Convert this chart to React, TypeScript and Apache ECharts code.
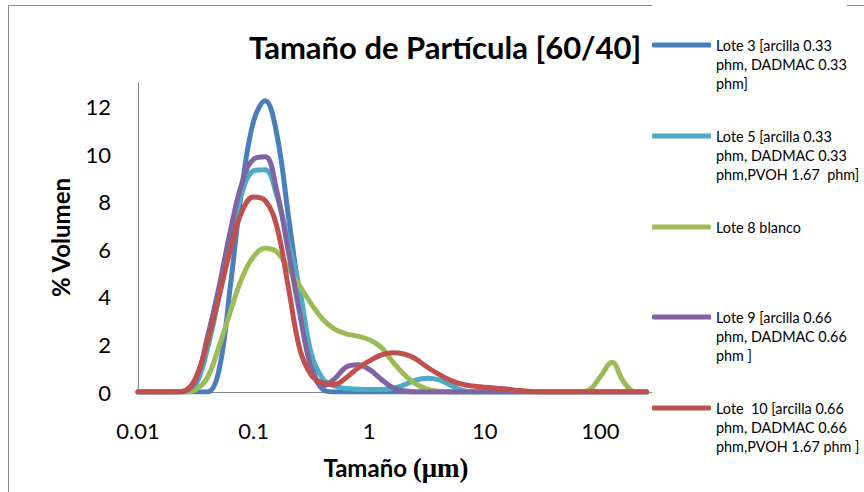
import React, { useEffect, useRef } from "react";
import * as echarts from "echarts";

const sizes = [
  0.01, 0.0126, 0.0158, 0.02, 0.0251, 0.0316, 0.0398, 0.0501, 0.0631, 0.0794,
  0.1, 0.126, 0.158, 0.2, 0.251, 0.316, 0.398, 0.501, 0.631, 0.794,
  1, 1.26, 1.58, 2, 2.51, 3.16, 3.98, 5.01, 6.31, 7.94,
  10, 12.6, 15.8, 20, 25.1, 31.6, 39.8, 50.1, 63.1, 79.4,
  100, 126, 158, 200, 251,
];

const lote3 = [
  0, 0, 0, 0, 0, 0, 0, 0.9, 4.5, 8.6,
  11.4, 12.25, 10.9, 7.4, 4.0, 1.2, 0.1, 0, 0, 0,
  0, 0, 0, 0, 0, 0, 0, 0, 0, 0,
  0, 0, 0, 0, 0, 0, 0, 0, 0, 0,
  0, 0, 0, 0, 0,
];
const lote5 = [
  0, 0, 0, 0, 0, 0.3, 1.8, 4.0, 6.4, 8.4,
  9.3, 9.35, 8.3, 6.3, 4.3, 1.6, 0.55, 0.25, 0.15, 0.12,
  0.1, 0.1, 0.15, 0.3, 0.5, 0.58, 0.52, 0.3, 0.08, 0.01,
  0, 0, 0, 0, 0, 0, 0, 0, 0, 0,
  0, 0, 0, 0, 0,
];
const lote8 = [
  0, 0, 0, 0, 0, 0.1, 0.6, 1.9, 3.4, 4.8,
  5.7, 6.05, 5.9, 5.2, 4.45, 3.7, 3.05, 2.65, 2.45, 2.35,
  2.2, 1.9, 1.3, 0.75, 0.35, 0.12, 0.03, 0, 0, 0,
  0, 0, 0, 0, 0, 0, 0, 0, 0, 0.08,
  0.65, 1.25, 0.45, 0, 0,
];
const lote9 = [
  0, 0, 0, 0, 0.03, 0.5, 2.3, 4.4, 6.8, 8.8,
  9.8, 9.9, 8.5, 5.9, 3.3, 1.0, 0.25, 0.55, 1.05, 1.15,
  0.95, 0.55, 0.2, 0.05, 0, 0, 0, 0, 0, 0,
  0, 0, 0, 0, 0, 0, 0, 0, 0, 0,
  0, 0, 0, 0, 0,
];
const lote10 = [
  0, 0, 0, 0, 0.05, 0.6, 2.1, 4.0, 6.0, 7.6,
  8.2, 8.05, 7.0, 4.4, 1.8, 0.7, 0.38, 0.32, 0.6, 1.0,
  1.3, 1.55, 1.65, 1.6, 1.4, 1.05, 0.75, 0.5, 0.33, 0.25,
  0.2, 0.16, 0.12, 0.06, 0.02, 0, 0, 0, 0, 0,
  0, 0, 0, 0, 0,
];

const seriesNames = [
  "Lote 3 [arcilla 0.33 phm, DADMAC 0.33 phm]",
  "Lote 5 [arcilla 0.33 phm, DADMAC 0.33 phm,PVOH 1.67  phm]",
  "Lote 8 blanco",
  "Lote 9 [arcilla 0.66 phm, DADMAC 0.66 phm ]",
  "Lote  10 [arcilla 0.66 phm, DADMAC 0.66 phm,PVOH 1.67 phm ]",
];
const legendLabels = [
  "Lote 3 [arcilla 0.33\nphm, DADMAC 0.33\nphm]",
  "Lote 5 [arcilla 0.33\nphm, DADMAC 0.33\nphm,PVOH 1.67  phm]",
  "Lote 8 blanco",
  "Lote 9 [arcilla 0.66\nphm, DADMAC 0.66\nphm ]",
  "Lote  10 [arcilla 0.66\nphm, DADMAC 0.66\nphm,PVOH 1.67 phm ]",
];
const seriesValues = [lote3, lote5, lote8, lote9, lote10];
const colors = ["#4A7EBB", "#4BACC6", "#9BBB59", "#8064A2", "#C0504D"];
const legendIconY = [45, 136, 227, 317, 408];

const FONT = "Lato, 'Noto Sans', sans-serif";

export default function App() {
  const ref = useRef<HTMLDivElement>(null);
  useEffect(() => {
    if (!ref.current) return;
    const chart = echarts.init(ref.current, undefined, { renderer: "svg" });
    const LH = 19;
    const legends = seriesNames.map((name, i) => {
      const lines = legendLabels[i].split("\n").length;
      const total = 2 * lines - 1;
      const boxHalf = (total * LH) / 2;
      const itemH = 5;
      const topOff = Math.max(0, boxHalf - itemH / 2);
      const label = "\n".repeat(lines - 1) + legendLabels[i];
      return {
        data: [name],
        orient: "vertical",
        left: 652,
        top: legendIconY[i] - topOff - itemH / 2,
        padding: 0,
        icon: "roundRect",
        itemWidth: 59,
        itemHeight: itemH,
        backgroundColor: "#ffffff",
        formatter: () => label,
        textStyle: {
          fontFamily: FONT,
          fontSize: 14.4,
          color: "#000",
          lineHeight: LH,
        },
      };
    });
    chart.setOption({
      animation: false,
      backgroundColor: "#ffffff",
      color: colors,
      title: {
        text: "Tamaño de Partícula [60/40]",
        left: 244,
        top: 26,
        textStyle: {
          fontFamily: FONT,
          fontWeight: "bold",
          fontSize: 31,
          color: "#000",
        },
      },
      legend: legends,
      grid: { left: 138, right: 148, top: 83, bottom: 100 },
      xAxis: {
        type: "log",
        logBase: 10,
        min: 0.01,
        max: 1000,
        name: "{a|Tamaño }{b|(μm)}",
        nameLocation: "middle",
        nameGap: 62,
        nameTextStyle: {
          padding: [0, 62, 0, 0],
          rich: {
            a: { fontFamily: FONT, fontWeight: "bold", fontSize: 24, color: "#000" },
            b: { fontFamily: "'Liberation Serif', 'DejaVu Serif', serif", fontWeight: "bold", fontSize: 27, color: "#000" },
          },
        },
        axisLine: { show: true, lineStyle: { color: "#868686", width: 1 } },
        axisTick: { show: false },
        splitLine: { show: false },
        minorTick: { show: false },
        axisLabel: {
          margin: 27,
          fontFamily: FONT,
          fontSize: 22,
          color: "#000",
          formatter: (v: number) => (v >= 999 ? "" : String(+v.toPrecision(3))),
        },
      },
      yAxis: {
        type: "value",
        min: 0,
        max: 13,
        interval: 2,
        name: "% Volumen",
        nameLocation: "middle",
        nameGap: 66,
        nameTextStyle: { fontFamily: FONT, fontWeight: "bold", fontSize: 24, color: "#000" },
        axisLine: { show: true, lineStyle: { color: "#868686", width: 1 } },
        axisTick: { show: false },
        splitLine: { show: false },
        axisLabel: {
          margin: 27,
          fontFamily: FONT,
          fontSize: 22,
          color: "#000",
          formatter: (v: number) => (v % 2 === 0 ? String(v) : ""),
        },
      },
      graphic: [
        {
          type: "rect",
          shape: { x: 8.5, y: 5.5, width: 1000, height: 1000 },
          style: { fill: "none", stroke: "#888888", lineWidth: 1 },
          silent: true,
          z: -1,
        },
      ],
      series: seriesNames.map((name, i) => ({
        name,
        type: "line",
        smooth: 0.4,
        showSymbol: false,
        symbol: "none",
        lineStyle: { width: 5, color: colors[i], cap: "round", join: "round" },
        itemStyle: { color: colors[i] },
        data: sizes.map((x, j) => [x, seriesValues[i][j]]),
      })),
    });
    return () => chart.dispose();
  }, []);
  return (
    <div
      ref={ref}
      style={{ position: "fixed", left: 0, top: 0, width: 864, height: 492, background: "#fff" }}
    />
  );
}
